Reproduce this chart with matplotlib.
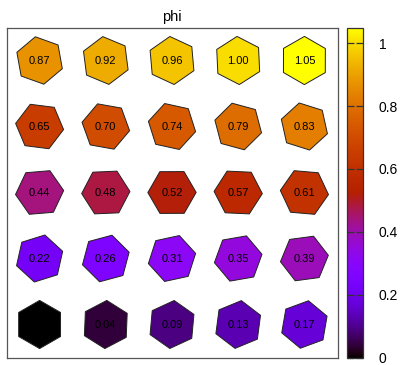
import numpy as np
import matplotlib
matplotlib.use("Agg")
import matplotlib.pyplot as plt
from matplotlib.patches import RegularPolygon
from matplotlib.colors import ListedColormap, Normalize
from matplotlib.colorbar import ColorbarBase

plt.rcParams['font.family'] = ['Liberation Sans', 'DejaVu Sans']

# grid columns / rows (row 1 at bottom)
cols = [1, 2, 3, 4, 5]
rows = [1, 2, 3, 4, 5]
# phi values, row by row from bottom, left to right
phi = [
    0.00, 0.04, 0.09, 0.13, 0.17,
    0.22, 0.26, 0.31, 0.35, 0.39,
    0.44, 0.48, 0.52, 0.57, 0.61,
    0.65, 0.70, 0.74, 0.79, 0.83,
    0.87, 0.92, 0.96, 1.00, 1.05,
]
cb_ticks = [0, 0.2, 0.4, 0.6, 0.8, 1]
cb_labels = ['0', '0.2', '0.4', '0.6', '0.8', '1']
cb_max = 1.05

# gnuplot default palette (rgbformulae 7,5,15)
xs = np.linspace(0, 1, 512)
r = np.sqrt(xs)
g = xs ** 3
b = np.clip(np.sin(2 * np.pi * xs), 0, 1)
cmap = ListedColormap(np.column_stack([r, g, b]))
norm = Normalize(0, cb_max)

W, H = 400, 365
fig = plt.figure(figsize=(W / 100, H / 100), dpi=100)
ax = fig.add_axes([6.5 / W, (H - 357.5) / H, 331 / W, 330 / H])
ax.set_xlim(0.5, 5.5)
ax.set_ylim(0.5, 5.5)
ax.set_xticks([])
ax.set_yticks([])
for s in ax.spines.values():
    s.set_color('#555555')
    s.set_linewidth(0.9)

k = 0
for ry in rows:
    for cx in cols:
        v = phi[k]
        hexp = RegularPolygon((cx, ry), numVertices=6, radius=0.365,
                              orientation=-v, facecolor=cmap(norm(v)),
                              edgecolor='#222222', linewidth=0.7)
        ax.add_patch(hexp)
        ax.text(cx, ry, f"{v:.2f}", ha='center', va='center',
                fontsize=8, color='black')
        k += 1

ax.set_title('phi', fontsize=10.5, pad=5)

cax = fig.add_axes([346.7 / W, (H - 357.5) / H, 16.6 / W, 330 / H])
cb = ColorbarBase(cax, cmap=cmap, norm=norm, orientation='vertical')
cb.set_ticks(cb_ticks)
cb.set_ticklabels(cb_labels)
cb.outline.set_edgecolor('#333333')
cb.outline.set_linewidth(0.9)
cax.tick_params(axis='y', direction='in', length=5, width=0.9,
                color='#333333', left=True, right=True,
                labelleft=False, labelright=True, labelsize=10, pad=11)
cax.minorticks_off()

fig.savefig('out.png', dpi=100)
